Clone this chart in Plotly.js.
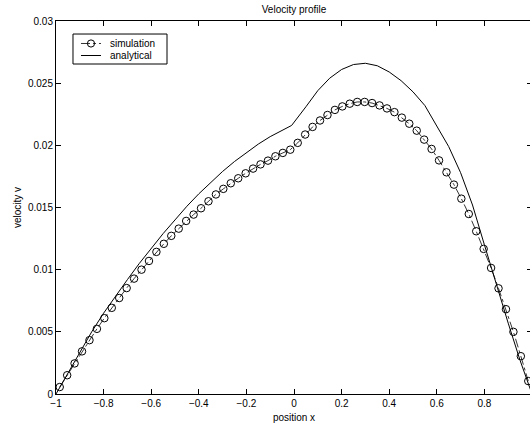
<!DOCTYPE html>
<html>
<head>
<meta charset="utf-8">
<script src="https://cdn.plot.ly/plotly-3.0.1.min.js"></script>
<style>
html,body{margin:0;padding:0;overflow:hidden;background:#fff;}
#chart{width:534px;height:428px;}
</style>
</head>
<body>
<div id="chart"></div>
<script>
// Simulation: 64 cell-centred points
var simX = [];
for (var i = 0; i < 64; i++) { simX.push(-1 + (2 * i + 1) / 64); }
var simV = [
  0.00056, 0.00151, 0.00246, 0.00343, 0.00433, 0.00524, 0.00610, 0.00693,
  0.00772, 0.00852, 0.00928, 0.01000, 0.01070, 0.01143, 0.01208, 0.01272,
  0.01330, 0.01392, 0.01443, 0.01494, 0.01550, 0.01605, 0.01650, 0.01695,
  0.01735, 0.01775, 0.01813, 0.01847, 0.01877, 0.01912, 0.01939, 0.01965,
  0.02020, 0.02087, 0.02148, 0.02200, 0.02244, 0.02285, 0.02313, 0.02335,
  0.02349, 0.02349, 0.02340, 0.02321, 0.02297, 0.02267, 0.02223, 0.02174,
  0.02118, 0.02046, 0.01971, 0.01879, 0.01783, 0.01684, 0.01571, 0.01448,
  0.01309, 0.01167, 0.01014, 0.00850, 0.00682, 0.00500, 0.00304, 0.00104
];

// Analytical curve
var anaX = [-1.0, -0.95, -0.9, -0.85, -0.8, -0.75, -0.7, -0.65, -0.6, -0.55,
            -0.5, -0.45, -0.4, -0.35, -0.3, -0.25, -0.2, -0.15, -0.1, -0.05, -0.01,
            0.05, 0.1, 0.15, 0.2, 0.25, 0.3, 0.35, 0.4, 0.45, 0.5, 0.55,
            0.6, 0.65, 0.7, 0.75, 0.8, 0.85, 0.9, 0.95, 1.0];
var anaV = [0.0, 0.0017, 0.0034, 0.0050, 0.0065, 0.0079, 0.0092, 0.0105, 0.0117, 0.0129,
            0.0140, 0.0151, 0.0161, 0.0170, 0.0179, 0.0187, 0.0194, 0.0201, 0.0207, 0.0212, 0.0216,
            0.0231, 0.0244, 0.0254, 0.0261, 0.0265, 0.0266, 0.0264, 0.0259, 0.0252, 0.0243, 0.0232,
            0.0216, 0.0199, 0.0178, 0.0152, 0.0120, 0.0088, 0.0057, 0.0027, 0.0];

var seriesNames = ['simulation', 'analytical'];
var xTicks = [-1, -0.8, -0.6, -0.4, -0.2, 0, 0.2, 0.4, 0.6, 0.8];
var xTickText = ['\u22121', '\u22120.8', '\u22120.6', '\u22120.4', '\u22120.2', '0', '0.2', '0.4', '0.6', '0.8'];
var yTicks = [0, 0.005, 0.01, 0.015, 0.02, 0.025, 0.03];
var yTickText = ['0', '0.005', '0.01', '0.015', '0.02', '0.025', '0.03'];

var font = {family: 'Liberation Sans, Arial, Helvetica, sans-serif', size: 10, color: '#000'};

var traces = [
  {
    x: simX, y: simV, name: seriesNames[0], type: 'scatter', mode: 'lines+markers',
    line: {color: '#000', width: 0.8, dash: 'dashdot'},
    marker: {symbol: 'circle-open', size: 7.5, color: '#000', line: {width: 1, color: '#000'}}
  },
  {
    x: anaX, y: anaV, name: seriesNames[1], type: 'scatter', mode: 'lines',
    line: {color: '#000', width: 1}
  }
];

var axisCommon = {
  showgrid: false, zeroline: false, showline: true, linecolor: '#000', linewidth: 1,
  mirror: 'ticks', ticks: 'inside', ticklen: 5, tickcolor: '#000', tickwidth: 1,
  tickfont: font
};

// Manual legend (MATLAB-style compact box), positioned in paper coordinates
var L = {x0: 0.0357, x1: 0.2332, y0: 0.8847, y1: 0.9651,
         symA: 0.0525, symB: 0.0945, symMid: 0.0735, textX: 0.1092,
         rows: [0.9397, 0.9075]};
var shapes = [
  {type: 'rect', xref: 'paper', yref: 'paper', x0: L.x0, x1: L.x1, y0: L.y0, y1: L.y1,
   line: {color: '#000', width: 1}, fillcolor: '#fff', layer: 'above'},
  {type: 'line', xref: 'paper', yref: 'paper', x0: L.symA, x1: L.symB, y0: L.rows[0], y1: L.rows[0],
   line: {color: '#000', width: 0.8, dash: 'dashdot'}, layer: 'above'},
  {type: 'circle', xref: 'paper', yref: 'paper', xsizemode: 'pixel', ysizemode: 'pixel',
   xanchor: L.symMid, yanchor: L.rows[0], x0: -3.6, x1: 3.6, y0: -3.6, y1: 3.6,
   line: {color: '#000', width: 1}, fillcolor: 'rgba(0,0,0,0)', layer: 'above'},
  {type: 'line', xref: 'paper', yref: 'paper', x0: L.symA, x1: L.symB, y0: L.rows[1], y1: L.rows[1],
   line: {color: '#000', width: 1}, layer: 'above'}
];
var annotations = seriesNames.map(function (n, k) {
  return {xref: 'paper', yref: 'paper', x: L.textX, y: L.rows[k], xanchor: 'left', yanchor: 'middle',
          text: n, showarrow: false, font: font};
});

var layout = {
  width: 534, height: 428,
  margin: {l: 56, r: 2, t: 21, b: 34},
  paper_bgcolor: '#fff', plot_bgcolor: '#fff',
  font: font,
  title: {text: 'Velocity profile', font: font, x: 0.5, xref: 'paper', y: 0.977, yref: 'container', yanchor: 'middle'},
  xaxis: Object.assign({}, axisCommon, {
    range: [-1, 1], tickmode: 'array', tickvals: xTicks, ticktext: xTickText,
    title: {text: 'position x', font: font, standoff: 5}
  }),
  yaxis: Object.assign({}, axisCommon, {
    range: [0, 0.03], tickmode: 'array', tickvals: yTicks, ticktext: yTickText,
    title: {text: 'velocity v', font: font, standoff: 4}
  }),
  showlegend: false,
  shapes: shapes,
  annotations: annotations
};

Plotly.newPlot('chart', traces, layout, {displayModeBar: false, staticPlot: true});
</script>
</body>
</html>
